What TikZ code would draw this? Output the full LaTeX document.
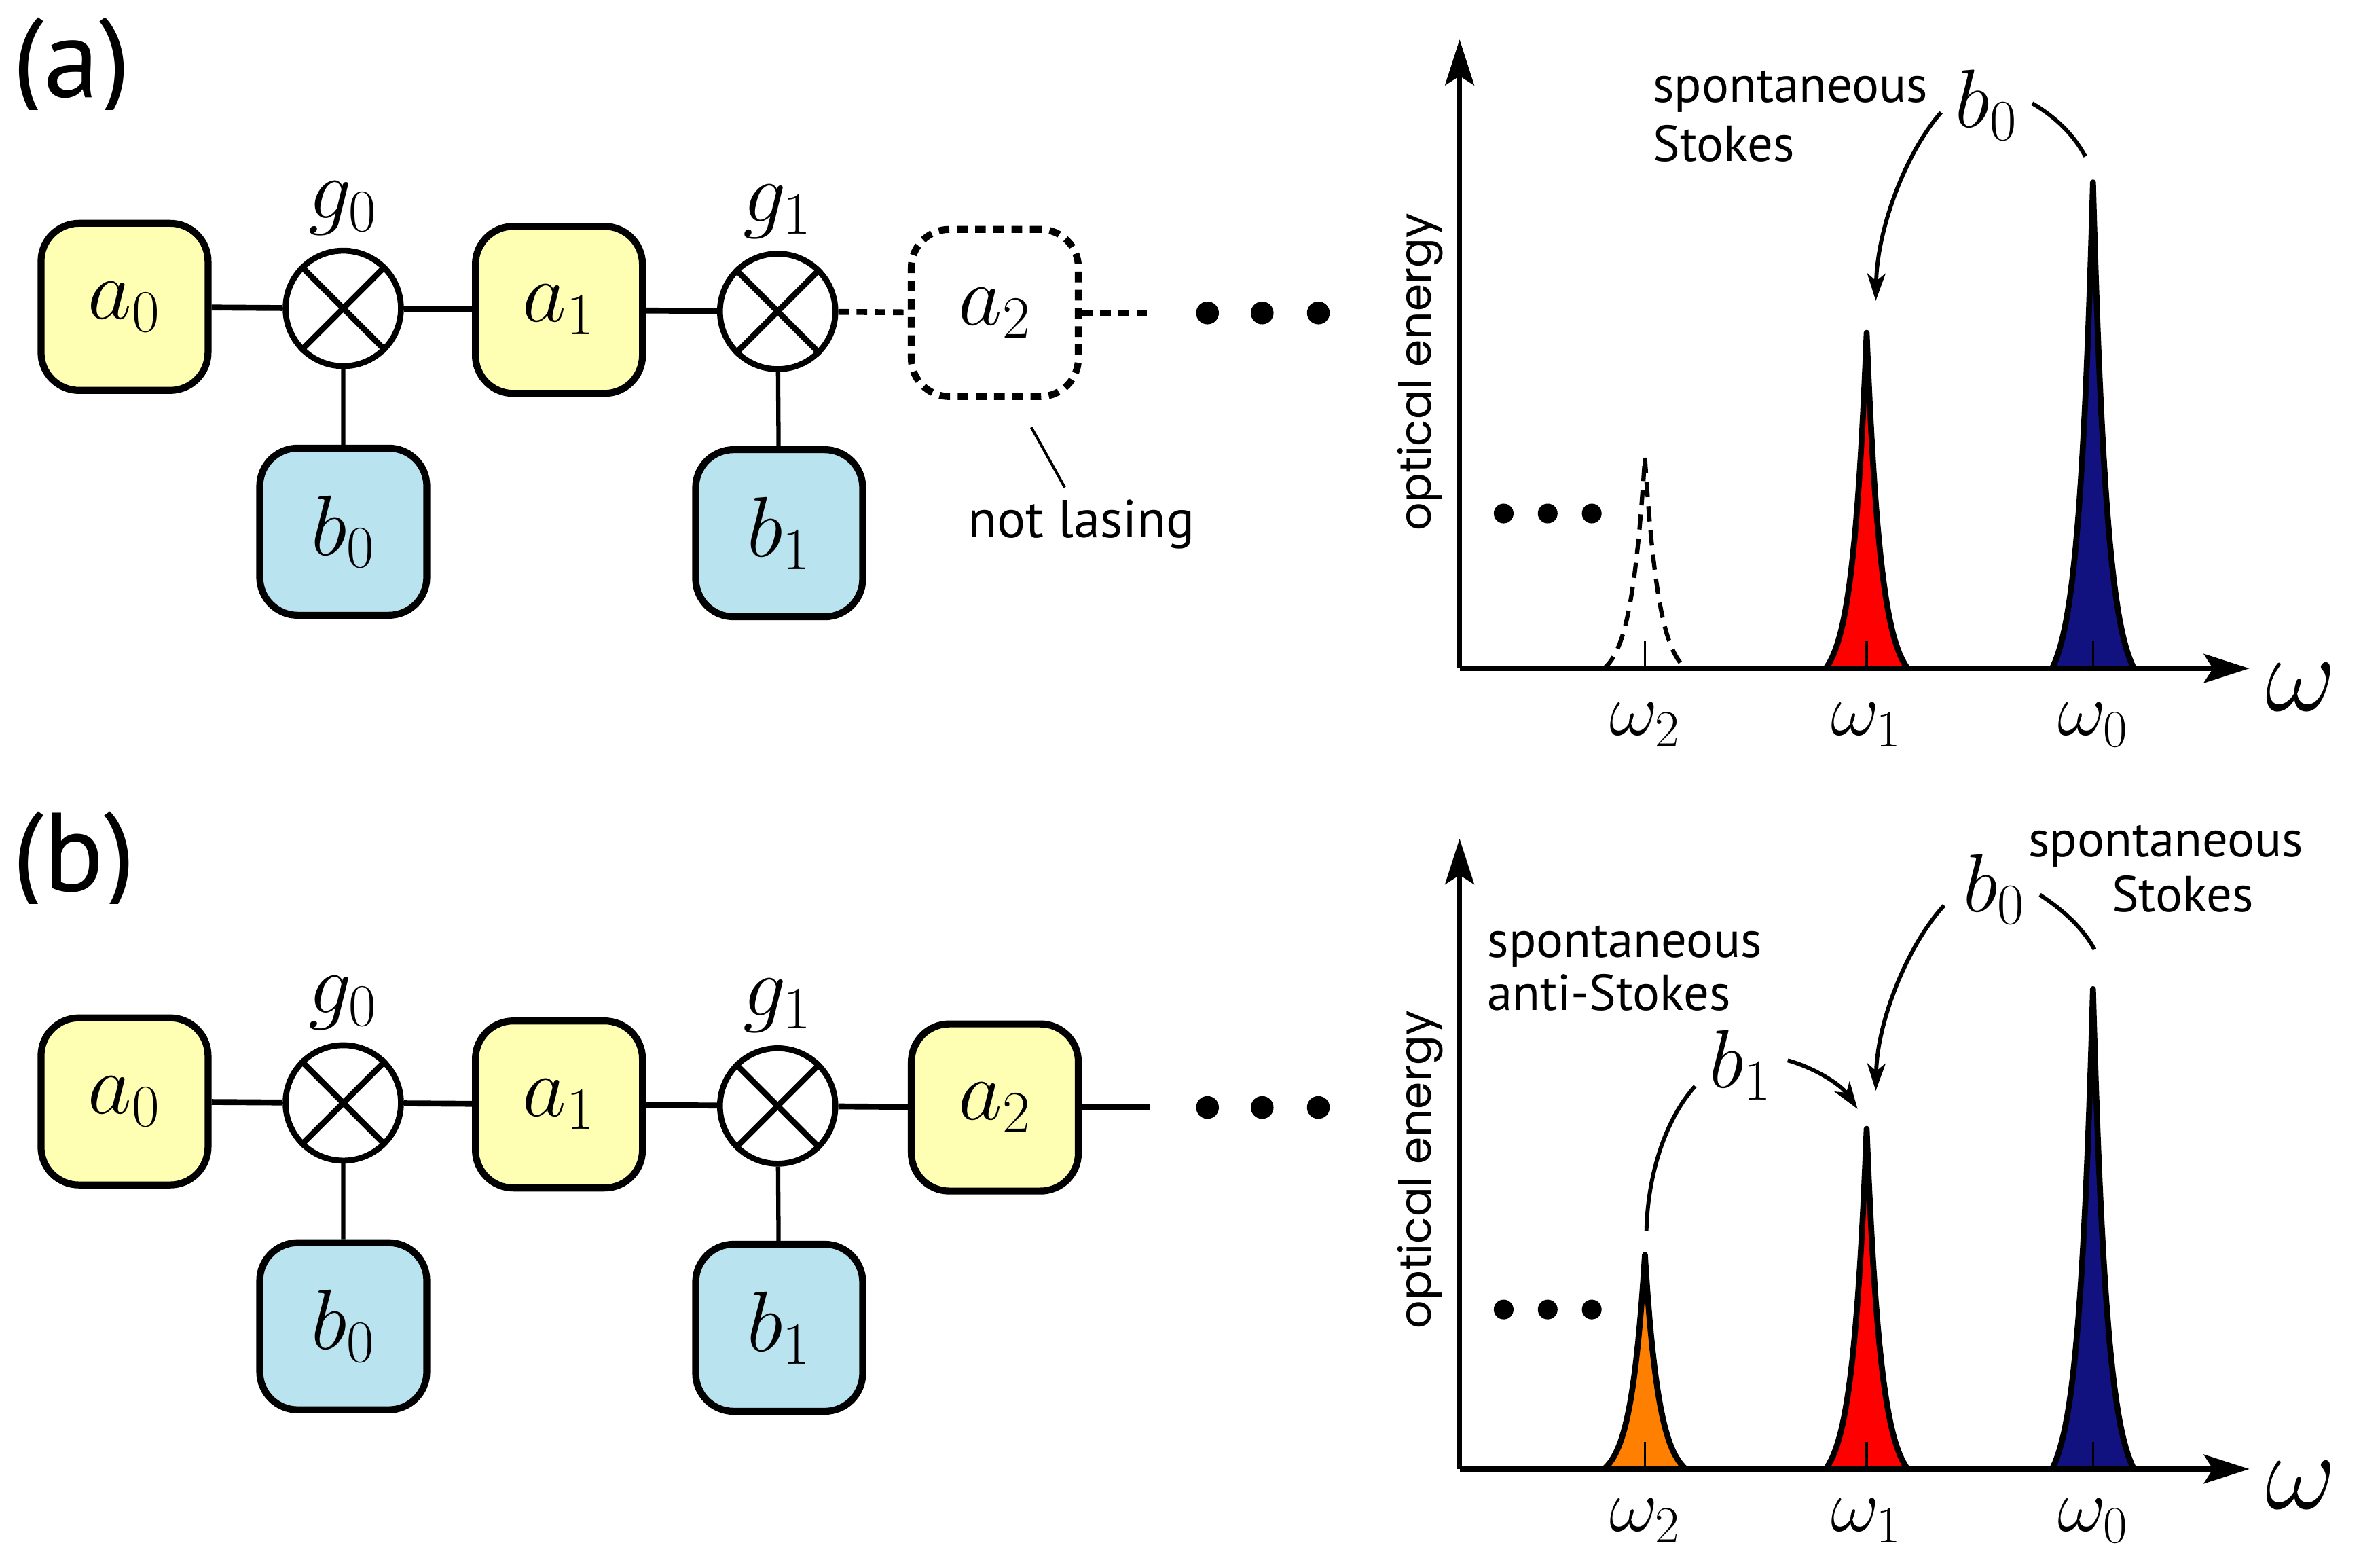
\RequirePackage{fix-cm}
\documentclass[tikz,border=0pt]{standalone}
\usepackage{fontspec}
\setsansfont{PT Sans}
\newfontfamily\axisfont{Poppins}
\usetikzlibrary{arrows.meta,positioning}

\definecolor{cavyellow}{RGB}{255,255,179}
\definecolor{phonblue}{RGB}{185,227,239}
\definecolor{pumpblue}{RGB}{17,17,128}
\definecolor{stokesred}{RGB}{255,0,0}
\definecolor{antiorange}{RGB}{255,128,0}

\tikzset{
  cavity/.style={draw,line width=2.6pt,rounded corners=0.5cm,minimum width=2.2cm,minimum height=2.2cm,fill=cavyellow,font=\fontsize{32}{38}\selectfont},
  phonon/.style={cavity,fill=phonblue},
  idle/.style={cavity,fill=none,dash pattern=on 0.14cm off 0.1cm},
  mixer/.style={draw,circle,line width=2.2pt,minimum size=1.52cm,fill=white},
  link/.style={line width=2.2pt},
  leg/.style={line width=1.6pt},
  dotlink/.style={link,dash pattern=on 0.14cm off 0.1cm},
  axis/.style={line width=1.9pt,-{Stealth[length=0.6cm,width=0.38cm,inset=0.12cm]}},
  peak/.style={draw,line width=2.2pt,line join=round},
  dashpeak/.style={draw,line width=1.6pt,dash pattern=on 0.2cm off 0.12cm},
  hop/.style={line width=1.5pt},
  hoparrow/.style={hop,-{Stealth[length=0.36cm,width=0.24cm,inset=0.1cm]}},
  pointer/.style={line width=1pt},
  sidelabel/.style={font=\sffamily\fontsize{19}{23}\selectfont,anchor=base west,inner sep=0},
  tag/.style={font=\sffamily\fontsize{42}{50}\selectfont,anchor=base west,inner sep=0},
  mathlabel/.style={font=\fontsize{31}{37}\selectfont,anchor=base,inner sep=0},
  freqlabel/.style={font=\fontsize{28}{34}\selectfont,anchor=base,inner sep=0},
  bigfreq/.style={font=\fontsize{41}{48}\selectfont,anchor=base,inner sep=0},
  energy/.style={rotate=90,font=\axisfont\fontsize{16.5}{20}\selectfont,inner sep=0},
}

% x centre, base line, height, style
\newcommand\drawpeak[4]{%
  \draw[#4] plot[domain=-27:27,samples=109] ({#1+\x},{#2-#3*(exp(-abs(\x)/9.2)-0.0532)/0.9468});
  \draw[line width=0.8pt] (#1,#2) -- (#1,#2-18);
}

\begin{document}
\begin{tikzpicture}[x=0.02cm,y=-0.02cm]
\useasboundingbox (0,0) rectangle (1567,1024);

% panel tags
\begin{scope}
  \clip (0,11) rectangle (130,72);
  \node[tag] (taga) at (8,64) {(a)};
\end{scope}
\begin{scope}
  \clip (0,534) rectangle (130,595);
  \node[tag] (tagb) at (8,587) {(b)};
\end{scope}

% cascade chains
\foreach \p/\dy in {a/0,b/523} {
  \node[cavity] (a0\p) at (82,202+\dy) {$a_0$};
  \node[mixer] (g0\p) at (226,203+\dy) {};
  \node[cavity] (a1\p) at (368,204+\dy) {$a_1$};
  \node[mixer] (g1\p) at (512,205+\dy) {};
  \node[phonon] (b0\p) at (226,350+\dy) {$b_0$};
  \node[phonon] (b1\p) at (513,351+\dy) {$b_1$};
  \node[above=0.16cm,inner sep=0,font=\fontsize{32}{38}\selectfont] (lg0\p) at (g0\p.north) {$g_0$};
  \node[above=0.16cm,inner sep=0,font=\fontsize{32}{38}\selectfont] (lg1\p) at (g1\p.north) {$g_1$};
  \draw[link] (a0\p) -- (g0\p) (g0\p) -- (a1\p) (a1\p) -- (g1\p);
  \draw[leg] (g0\p) -- (b0\p) (g1\p) -- (b1\p);
  \draw[link] (g0\p.north west) -- (g0\p.south east) (g0\p.north east) -- (g0\p.south west);
  \draw[link] (g1\p.north west) -- (g1\p.south east) (g1\p.north east) -- (g1\p.south west);
}

% (a) idle third cavity
\node[idle] (a2a) at (655,206) {$a_2$};
\coordinate (enda) at (757,206);
\draw[dotlink] (g1a) -- (a2a);
\draw[dotlink] (a2a) -- (enda);
\node[sidelabel,anchor=base,font=\sffamily\fontsize{20}{24}\selectfont] (nl) at (712,354) {not lasing};
\draw[pointer] ([xshift=0.48cm,yshift=-0.36cm]a2a.south) -- ([xshift=-0.22cm,yshift=0.16cm]nl.north);
\foreach \dx in {795,831,868} \fill (\dx,206) circle[radius=0.15cm];

% (b) lasing third cavity
\node[cavity] (a2b) at (655,729) {$a_2$};
\coordinate (endb) at (757,729);
\draw[link] (g1b) -- (a2b);
\draw[link] (a2b) -- (endb);
\foreach \dx in {795,831,868} \fill (\dx,729) circle[radius=0.15cm];

% (a) spectrum
\drawpeak{1378}{440}{320}{peak,fill=pumpblue}
\drawpeak{1229}{440}{221}{peak,fill=stokesred}
\drawpeak{1083}{440}{139}{dashpeak}
\coordinate (orga) at (961,440);
\coordinate (xenda) at (1481,440);
\coordinate (yenda) at (961,26);
\draw[axis] (orga) -- (xenda);
\draw[axis] (orga) -- (yenda);
\node[freqlabel] (w2a) at (1083,484) {$\omega_2$};
\node[freqlabel] (w1a) at (1229,484) {$\omega_1$};
\node[freqlabel] (w0a) at (1378,484) {$\omega_0$};
\node[bigfreq] (wa) at (1515,468) {$\omega$};
\node[energy] (oea) at (935,245) {optical energy};
\foreach \dx in {990,1019,1048} \fill (\dx,338) circle[radius=0.13cm];
\node[mathlabel] (lb0a) at (1308,84) {$b_0$};
\coordinate (s1a) at (1278,74);
\coordinate (t1a) at (1235,198);
\coordinate (s2a) at (1338,68);
\coordinate (t2a) at (1373,103);
\draw[hoparrow] (s1a) .. controls (1255,100) and (1236,150) .. (t1a);
\draw[hop] (s2a) .. controls (1355,78) and (1366,90) .. (t2a);
\node[sidelabel] (sp1a) at (1088,67.5) {spontaneous};
\node[sidelabel] (st1a) at (1088,106) {Stokes};

% (b) spectrum
\drawpeak{1378}{967}{316}{peak,fill=pumpblue}
\drawpeak{1229}{967}{224}{peak,fill=stokesred}
\drawpeak{1083}{967}{141}{peak,fill=antiorange}
\coordinate (orgb) at (961,967);
\coordinate (xendb) at (1481,967);
\coordinate (yendb) at (961,552);
\draw[axis] (orgb) -- (xendb);
\draw[axis] (orgb) -- (yendb);
\node[freqlabel] (w2b) at (1083,1008) {$\omega_2$};
\node[freqlabel] (w1b) at (1229,1008) {$\omega_1$};
\node[freqlabel] (w0b) at (1378,1008) {$\omega_0$};
\node[bigfreq] (wb) at (1515,993) {$\omega$};
\node[energy] (oeb) at (935,770) {optical energy};
\foreach \dx in {990,1019,1048} \fill (\dx,862) circle[radius=0.13cm];
\node[mathlabel] (lb0b) at (1313,600) {$b_0$};
\node[mathlabel] (lb1b) at (1146,716) {$b_1$};
\coordinate (s1b) at (1280,596);
\coordinate (t1b) at (1235,718);
\coordinate (s2b) at (1343,589);
\coordinate (t2b) at (1379,625);
\coordinate (s3b) at (1177,698);
\coordinate (t3b) at (1223,730);
\coordinate (s4b) at (1116,715);
\coordinate (t4b) at (1084,810);
\draw[hoparrow] (s1b) .. controls (1256,622) and (1236,672) .. (t1b);
\draw[hop] (s2b) .. controls (1360,600) and (1372,612) .. (t2b);
\draw[hoparrow] (s3b) .. controls (1195,703) and (1212,714) .. (t3b);
\draw[hop] (s4b) .. controls (1098,735) and (1085,770) .. (t4b);
\node[sidelabel] (sp2b) at (979,630) {spontaneous};
\node[sidelabel] (as2b) at (979,665) {anti-Stokes};
\node[sidelabel,anchor=base] (sp1b) at (1426,564) {spontaneous};
\node[sidelabel,anchor=base] (st1b) at (1437,600) {Stokes};
\end{tikzpicture}
\end{document}
